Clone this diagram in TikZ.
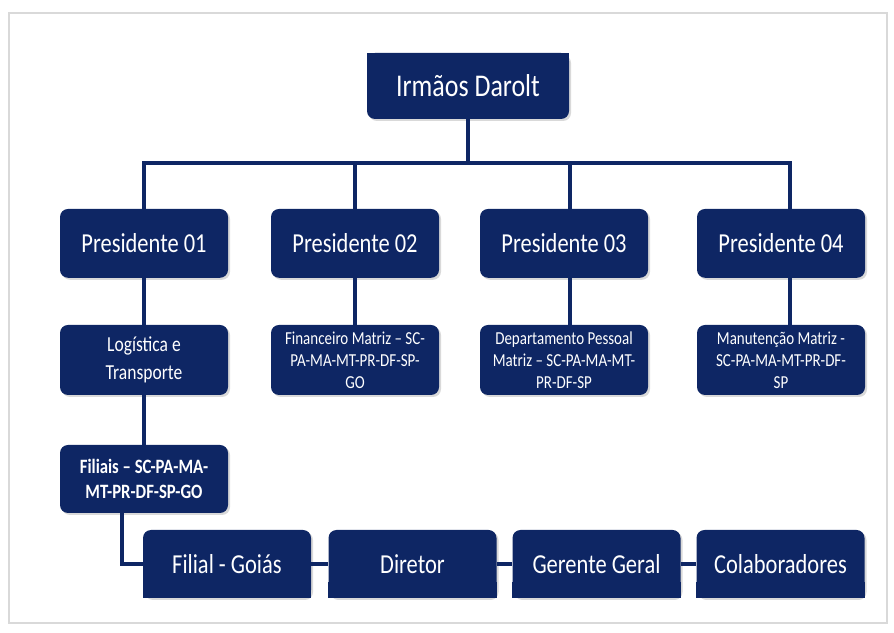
\documentclass[tikz,border=0pt]{standalone}
\usepackage{fontspec}
\setmainfont{Carlito}[FakeStretch=0.82]
\usetikzlibrary{shadows}
\definecolor{navy}{RGB}{14,38,100}
\tikzset{
  box/.style={rectangle,rounded corners=0.2cm,fill=navy,text=white,
    minimum width=4.2cm,minimum height=1.72cm,inner sep=2pt,align=center,
    drop shadow={opacity=0.3,shadow xshift=0.05cm,shadow yshift=-0.05cm}},
  link/.style={draw=navy,line width=2.7pt}
}
\newcommand{\bigtxt}{\fontsize{19.5}{23}\selectfont}
\newcommand{\midtxt}{\fontsize{15.2}{19.6}\selectfont}
\newcommand{\smalltxt}{\fontsize{13}{15.6}\selectfont}

\begin{document}
\begin{tikzpicture}
  \useasboundingbox (0,0) rectangle (22.35,15.825);
  \draw[gray!30,line width=1.2pt] (0.225,0.25) rectangle (22.175,15.5);
  % top
  \node[box,minimum width=5.05cm,minimum height=1.65cm,font=\fontsize{22.5}{26}\selectfont](top)at(11.7,13.675){Irmãos Darolt};
  \fill[navy] (top.north west) rectangle ([yshift=-0.4cm]top.north east);
  % presidentes
  \node[box,font=\bigtxt](p1)at(3.6,9.74){Presidente 01};
  \node[box,font=\bigtxt](p2)at(8.875,9.74){Presidente 02};
  \node[box,font=\bigtxt](p3)at(14.1,9.74){Presidente 03};
  \node[box,font=\bigtxt](p4)at(19.525,9.74){Presidente 04};
  % setores
  \node[box,minimum height=1.75cm,font=\midtxt](log)at(3.6,6.825){Logística e\\Transporte};
  \node[box,minimum height=1.75cm,font=\smalltxt](fin)at(8.875,6.825){Financeiro Matriz – SC-\\PA-MA-MT-PR-DF-SP-\\GO};
  \node[box,minimum height=1.75cm,font=\smalltxt](dep)at(14.1,6.825){Departamento Pessoal\\Matriz – SC-PA-MA-MT-\\PR-DF-SP};
  \node[box,minimum height=1.75cm,font=\smalltxt](man)at(19.525,6.825){Manutenção Matriz -\\SC-PA-MA-MT-PR-DF-\\SP};
  % filiais
  \node[box,minimum height=1.7cm,font=\fontsize{14.5}{18}\selectfont\bfseries](fil)at(3.6,3.85){Filiais – SC-PA-MA-\\MT-PR-DF-SP-GO};
  \node[box,minimum height=1.7cm,font=\bigtxt](goi)at(5.675,1.725){Filial - Goiás};
  \node[box,minimum height=1.7cm,font=\bigtxt](dir)at(10.3125,1.725){Diretor};
  \node[box,minimum height=1.7cm,font=\bigtxt](ger)at(14.9125,1.725){Gerente Geral};
  \node[box,minimum height=1.7cm,font=\bigtxt](col)at(19.5125,1.725){Colaboradores};
  \foreach \n in {goi,dir,ger,col}
    \fill[navy] ([yshift=0.4cm]\n.south west) rectangle (\n.south east);
  % ligacoes
  \coordinate (bus) at (0,11.75);
  \coordinate (s3) at ([xshift=0.15cm]p3.north);
  \coordinate (s4) at ([xshift=0.225cm]p4.north);
  \draw[link] (top.south) -- (top.south |- bus);
  \draw[link] (p1.north) -- (p1.north |- bus) -- (s4 |- bus) -- (s4);
  \draw[link] (p2.north) -- (p2.north |- bus);
  \draw[link] (s3) -- (s3 |- bus);
  \draw[link] (p1) -- (log);
  \draw[link] (p2) -- (fin);
  \draw[link] (s3 |- p3.south) -- (s3 |- dep.north);
  \draw[link] (s4 |- p4.south) -- (s4 |- man.north);
  \draw[link] (log) -- (fil);
  \draw[link] ([xshift=-0.55cm]fil.south) |- (goi.west);
  \draw[link] (goi) -- (dir);
  \draw[link] (dir) -- (ger);
  \draw[link] (ger) -- (col);
\end{tikzpicture}
\end{document}
